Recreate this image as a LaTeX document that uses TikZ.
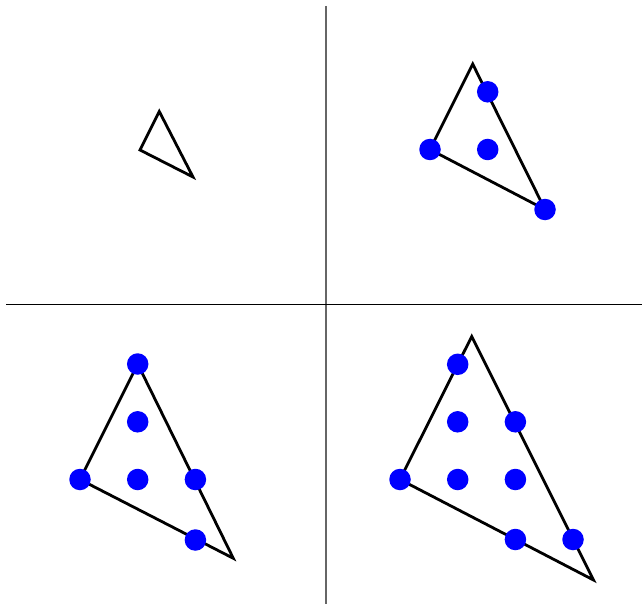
\documentclass[tikz,border=0pt]{standalone}
\begin{document}
\begin{tikzpicture}[x=1pt,y=-1pt,
  tri/.style={draw=black,line width=2.8pt,line join=miter},
  pt/.style={circle,fill=blue,inner sep=0pt,minimum size=21.5pt},
  axisv/.style={draw=black!60,line width=1.2pt},
  axish/.style={draw=black,line width=1.2pt}]
\useasboundingbox (0,0) rectangle (642,604);
% axes
\coordinate (vt) at (326,6);
\coordinate (vb) at (326,604);
\coordinate (hl) at (6,304.5);
\coordinate (hr) at (642,304.5);
\draw[axisv] (vt) -- (vb);
\draw[axish] (hl) -- (hr);
% top-left
\coordinate (a1) at (159.3,111.5);
\coordinate (b1) at (140,150);
\coordinate (c1) at (193,177);
\draw[tri] (a1) -- (b1) -- (c1) -- cycle;
% top-right
\coordinate (a2) at (472.7,64);
\coordinate (b2) at (430,149.5);
\coordinate (c2) at (545,209.5);
\draw[tri] (a2) -- (b2) -- (c2) -- cycle;
\node[pt] (p21) at (487.7,91.8) {};
\node[pt] (p22) at (430,149.5) {};
\node[pt] (p23) at (487.7,149.5) {};
\node[pt] (p24) at (545,209.5) {};
% bottom-left
\coordinate (a3) at (137.7,364);
\coordinate (b3) at (80,479.5);
\coordinate (c3) at (233.3,558.3);
\draw[tri] (a3) -- (b3) -- (c3) -- cycle;
\node[pt] (p31) at (137.7,364) {};
\node[pt] (p32) at (137.7,421.8) {};
\node[pt] (p33) at (80,479.5) {};
\node[pt] (p34) at (137.7,479.5) {};
\node[pt] (p35) at (195.4,479.5) {};
\node[pt] (p36) at (195.4,540) {};
% bottom-right
\coordinate (a4) at (471.7,336.5);
\coordinate (b4) at (400,479.5);
\coordinate (c4) at (593.5,580);
\draw[tri] (a4) -- (b4) -- (c4) -- cycle;
\node[pt] (p41) at (457.7,364.3) {};
\node[pt] (p42) at (457.7,421.8) {};
\node[pt] (p43) at (515.4,421.8) {};
\node[pt] (p44) at (400,479.5) {};
\node[pt] (p45) at (457.7,479.5) {};
\node[pt] (p46) at (515.4,479.5) {};
\node[pt] (p47) at (515.4,539.5) {};
\node[pt] (p48) at (573,539.5) {};
\end{tikzpicture}
\end{document}
